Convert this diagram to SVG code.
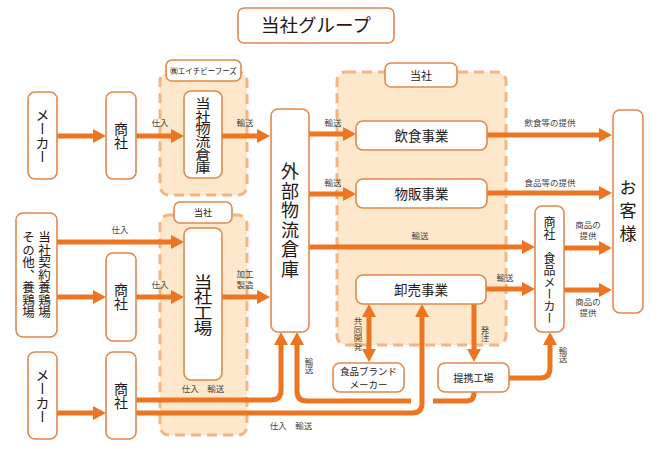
<svg xmlns="http://www.w3.org/2000/svg" width="668" height="453" viewBox="0 0 668 453">
<style>
text{font-family:"Noto Sans CJK JP","Noto Sans",sans-serif;fill:#231815}
.box{fill:#fff;stroke:#E2884C;stroke-width:1.6}
.area{fill:#FDE8CB;stroke:#F3B486;stroke-width:3;stroke-dasharray:10 6}
.ln{fill:none;stroke:#ED7522;stroke-width:5}
.v{writing-mode:vertical-rl;text-anchor:middle}
.c{text-anchor:middle}
.s{font-size:8.5px;fill:#444}
</style>
<defs>
<marker id="ah" viewBox="0 0 13 14" markerWidth="13" markerHeight="14" refX="1" refY="7" orient="auto-start-reverse" markerUnits="userSpaceOnUse">
<path d="M0,0 L13,7 L0,14 z" fill="#ED7522"/>
</marker>
</defs>

<g id="title"><rect class="box" x="238" y="8" width="156" height="35" rx="6"/><text class="c" x="316" y="32" font-size="18.5">当社グループ</text></g>

<g id="area-hb"><rect class="area" x="160" y="72" width="87" height="123" rx="9"/><rect class="box" x="166" y="60" width="75" height="21" rx="6"/><text class="c" x="203.5" y="74" font-size="7.5">㈱エイチビーフーズ</text></g>
<g id="area-factory"><rect class="area" x="160" y="215" width="87" height="220" rx="9"/><rect class="box" x="174" y="202" width="58" height="21" rx="6"/><text class="c" x="203" y="216" font-size="9">当社</text></g>
<g id="area-company"><rect class="area" x="337" y="72" width="169" height="273" rx="9"/><rect class="box" x="385" y="63" width="72" height="24" rx="6"/><text class="c" x="421" y="79.5" font-size="11">当社</text></g>

<g id="connectors">
<path class="ln" d="M57,136 H94" marker-end="url(#ah)"/>
<path class="ln" d="M136,136 H172" marker-end="url(#ah)"/>
<path class="ln" d="M222,136 H258" marker-end="url(#ah)"/>
<path class="ln" d="M309,134 H344" marker-end="url(#ah)"/>
<path class="ln" d="M309,194 H344" marker-end="url(#ah)"/>
<path class="ln" d="M309,247 H523" marker-end="url(#ah)"/>
<path class="ln" d="M487,135 H600" marker-end="url(#ah)"/>
<path class="ln" d="M487,193 H600" marker-end="url(#ah)"/>
<path class="ln" d="M564,248 H600" marker-end="url(#ah)"/>
<path class="ln" d="M564,290 H600" marker-end="url(#ah)"/>
<path class="ln" d="M486,289 H523" marker-end="url(#ah)"/>
<path class="ln" d="M57,242 H172" marker-end="url(#ah)"/>
<path class="ln" d="M57,297 H94" marker-end="url(#ah)"/>
<path class="ln" d="M136,297 H172" marker-end="url(#ah)"/>
<path class="ln" d="M222,297 H258" marker-end="url(#ah)"/>
<path class="ln" d="M57,413 H94" marker-end="url(#ah)"/>
<path class="ln" d="M136,400 H271 Q281,400 281,390 V344" marker-end="url(#ah)"/>
<path class="ln" d="M136,413 H412 Q422,413 422,403 V316" marker-end="url(#ah)"/>
<path class="ln" d="M474,392 V393 Q474,401 466,401 H433 M411,401 H307 Q297,401 297,391 V344" marker-end="url(#ah)"/>
<path class="ln" d="M509,378 H540 Q550,378 550,368 V344" marker-end="url(#ah)"/>
<path class="ln" d="M474,304 V350" marker-end="url(#ah)"/>
<path class="ln" d="M369,316 V350" marker-start="url(#ah)" marker-end="url(#ah)"/>
<text class="s c" x="160" y="126">仕入</text>
<text class="s c" x="245" y="126">輸送</text>
<text class="s c" x="333" y="126">輸送</text>
<text class="s c" x="333" y="186">輸送</text>
<text class="s c" x="420" y="239">輸送</text>
<text class="s c" x="550" y="126">飲食等の提供</text>
<text class="s c" x="550" y="186">食品等の提供</text>
<text class="s c" x="588" y="228">商品の</text><text class="s c" x="588" y="239">提供</text>
<text class="s c" x="588" y="305">商品の</text><text class="s c" x="588" y="316">提供</text>
<text class="s c" x="505" y="281">輸送</text>
<text class="s c" x="120" y="233">仕入</text>
<text class="s c" x="160" y="288">仕入</text>
<text class="s c" x="245" y="277">加工</text><text class="s c" x="245" y="288">製造</text>
<text class="s c" x="203" y="392">仕入　輸送</text>
<text class="s c" x="291" y="429">仕入　輸送</text>
<text class="s v" x="309" y="366">輸送</text>
<text class="s v" x="358" y="334">共同開発</text>
<text class="s v" x="485" y="334">発注</text>
<text class="s v" x="563" y="355">輸送</text>
</g>

<g id="maker1"><rect class="box" x="28" y="92" width="29" height="87" rx="7"/><text class="v" x="42.5" y="136" font-size="14">メーカー</text></g>
<g id="trader1"><rect class="box" x="106" y="92" width="30" height="87" rx="7"/><text class="v" x="121" y="136" font-size="14">商社</text></g>
<g id="hb-warehouse"><rect class="box" x="184" y="91" width="38" height="87" rx="7"/><text class="v" transform="translate(203,135) scale(1.2,1)" x="0" y="0" font-size="12.8">当社物流倉庫</text></g>
<g id="ext-warehouse"><rect class="box" x="271" y="109" width="38" height="223" rx="7"/><text class="v" x="290" y="221" font-size="18" letter-spacing="1.6">外部物流倉庫</text></g>
<g id="farm"><rect class="box" x="16" y="213" width="41" height="124" rx="7"/><text class="v" x="44.5" y="275" font-size="12.5">当社契約養鶏場</text><text class="v" x="28.5" y="275" font-size="12.5">その他、養鶏場</text></g>
<g id="trader2"><rect class="box" x="106" y="253" width="30" height="88" rx="7"/><text class="v" x="121" y="297" font-size="14">商社</text></g>
<g id="factory"><rect class="box" x="184" y="228" width="38" height="152" rx="7"/><text class="v" transform="translate(203,305) scale(1.2,1)" x="0" y="0" font-size="15.5">当社工場</text></g>
<g id="maker2"><rect class="box" x="28" y="352" width="29" height="87" rx="7"/><text class="v" x="42.5" y="395.5" font-size="14">メーカー</text></g>
<g id="trader3"><rect class="box" x="106" y="352" width="30" height="87" rx="7"/><text class="v" x="121" y="395.5" font-size="14">商社</text></g>
<g id="restaurant"><rect class="box" x="356" y="121" width="131" height="29" rx="7"/><text class="c" x="421.5" y="140.5" font-size="13.5">飲食事業</text></g>
<g id="retail"><rect class="box" x="356" y="179" width="131" height="29" rx="7"/><text class="c" x="421.5" y="198.5" font-size="13.5">物販事業</text></g>
<g id="wholesale"><rect class="box" x="356" y="275" width="130" height="29" rx="7"/><text class="c" x="421" y="294.5" font-size="13.5">卸売事業</text></g>
<g id="brand-maker"><rect class="box" x="333" y="363" width="71" height="29" rx="7"/><text class="c" x="368.5" y="375" font-size="9.5">食品ブランド</text><text class="c" x="368.5" y="388" font-size="9.5">メーカー</text></g>
<g id="partner-factory"><rect class="box" x="438" y="363" width="71" height="29" rx="7"/><text class="c" x="473.5" y="381.5" font-size="10">提携工場</text></g>
<g id="trader-maker"><rect class="box" x="535" y="206" width="29" height="126" rx="7"/><text class="v" x="549.5" y="270.5" font-size="12">商社　食品メーカー</text></g>
<g id="customer"><rect class="box" x="613" y="110" width="30" height="203" rx="7"/><text class="v" x="628" y="214" font-size="17" letter-spacing="6">お客様</text></g>
</svg>
